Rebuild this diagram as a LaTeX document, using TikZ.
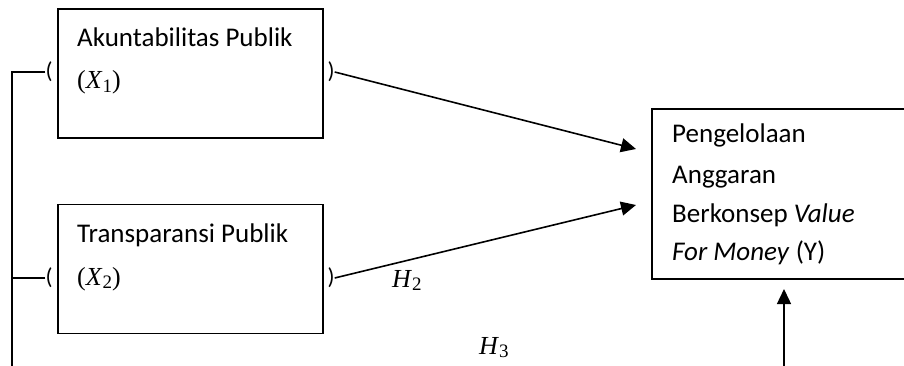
\documentclass[tikz,border=0pt]{standalone}
\usepackage{fontspec}
\setmainfont{Carlito}
\newfontfamily\varfont{Liberation Serif}
\usetikzlibrary{arrows.meta,positioning}
\newcommand{\varlab}[2]{{\varfont\textit{#1}\raisebox{-0.28ex}{\fontsize{19}{20}\selectfont #2}}}

\begin{document}
\begin{tikzpicture}[x=1pt, y=-1pt,
  font=\fontsize{27}{32}\selectfont,
  varbox/.style={draw, line width=1.6pt, minimum width=265pt, minimum height=129pt, inner sep=0pt},
  txt/.style={anchor=base west, inner sep=0pt},
  paren/.style={inner sep=0pt, font=\fontsize{23}{27}\selectfont},
  lnk/.style={line width=1.6pt},
  arr/.style={-{Triangle[length=15pt, width=14pt]}, line width=1.6pt}]
  \useasboundingbox (0,0) rectangle (904,366);
  % variabel X
  \node[varbox] (x1) at (190.5,73.5) {};
  \node[varbox] (x2) at (190.5,269) {};
  \node[txt] (x1a) at (77,47) {Akuntabilitas Publik};
  \node[txt, font=\fontsize{26}{30}\selectfont] (x1b) at (77,89) {{\varfont(}\varlab{X}{1}{\varfont)}};
  \node[txt] (x2a) at (77,242) {Transparansi Publik};
  \node[txt, font=\fontsize{26}{30}\selectfont] (x2b) at (77,285) {{\varfont(}\varlab{X}{2}{\varfont)}};
  \node[paren] (p1l) at (49,72) {(};
  \node[paren] (p1r) at (331,72) {)};
  \node[paren] (p2l) at (49,278) {(};
  \node[paren] (p2r) at (331,278) {)};
  % variabel Y
  \node[draw, line width=1.6pt, anchor=north west, minimum width=265pt,
        minimum height=170pt, inner sep=0pt] (y) at (651,108) {};
  \node[txt] (ya) at (672,143) {Pengelolaan};
  \node[txt] (yb) at (672,183) {Anggaran};
  \node[txt] (yc) at (672,222) {Berkonsep \textit{Value}};
  \node[txt] (yd) at (672,260) {\textit{For Money} (Y)};
  % hipotesis
  \coordinate (in1) at (636,149);
  \coordinate (in2) at (636,205);
  \coordinate (in3) at (784,289);
  \coordinate (bus) at (12,366);
  \coordinate (h3src) at (784,366);
  \draw[arr] (p1r.east) -- (in1);
  \draw[arr] (p2r.east) -- (in2);
  \draw[arr, line width=1.4pt] (h3src) -- (in3);
  \draw[lnk] (p1l.west) -| (bus);
  \draw[lnk] (p2l.west) -- (p2l.west -| bus);
  \node[txt, font=\fontsize{26}{30}\selectfont] (h2) at (392,287) {\varlab{H}{2}};
  \node[txt, font=\fontsize{26}{30}\selectfont] (h3) at (479,354) {\varlab{H}{3}};
\end{tikzpicture}
\end{document}
